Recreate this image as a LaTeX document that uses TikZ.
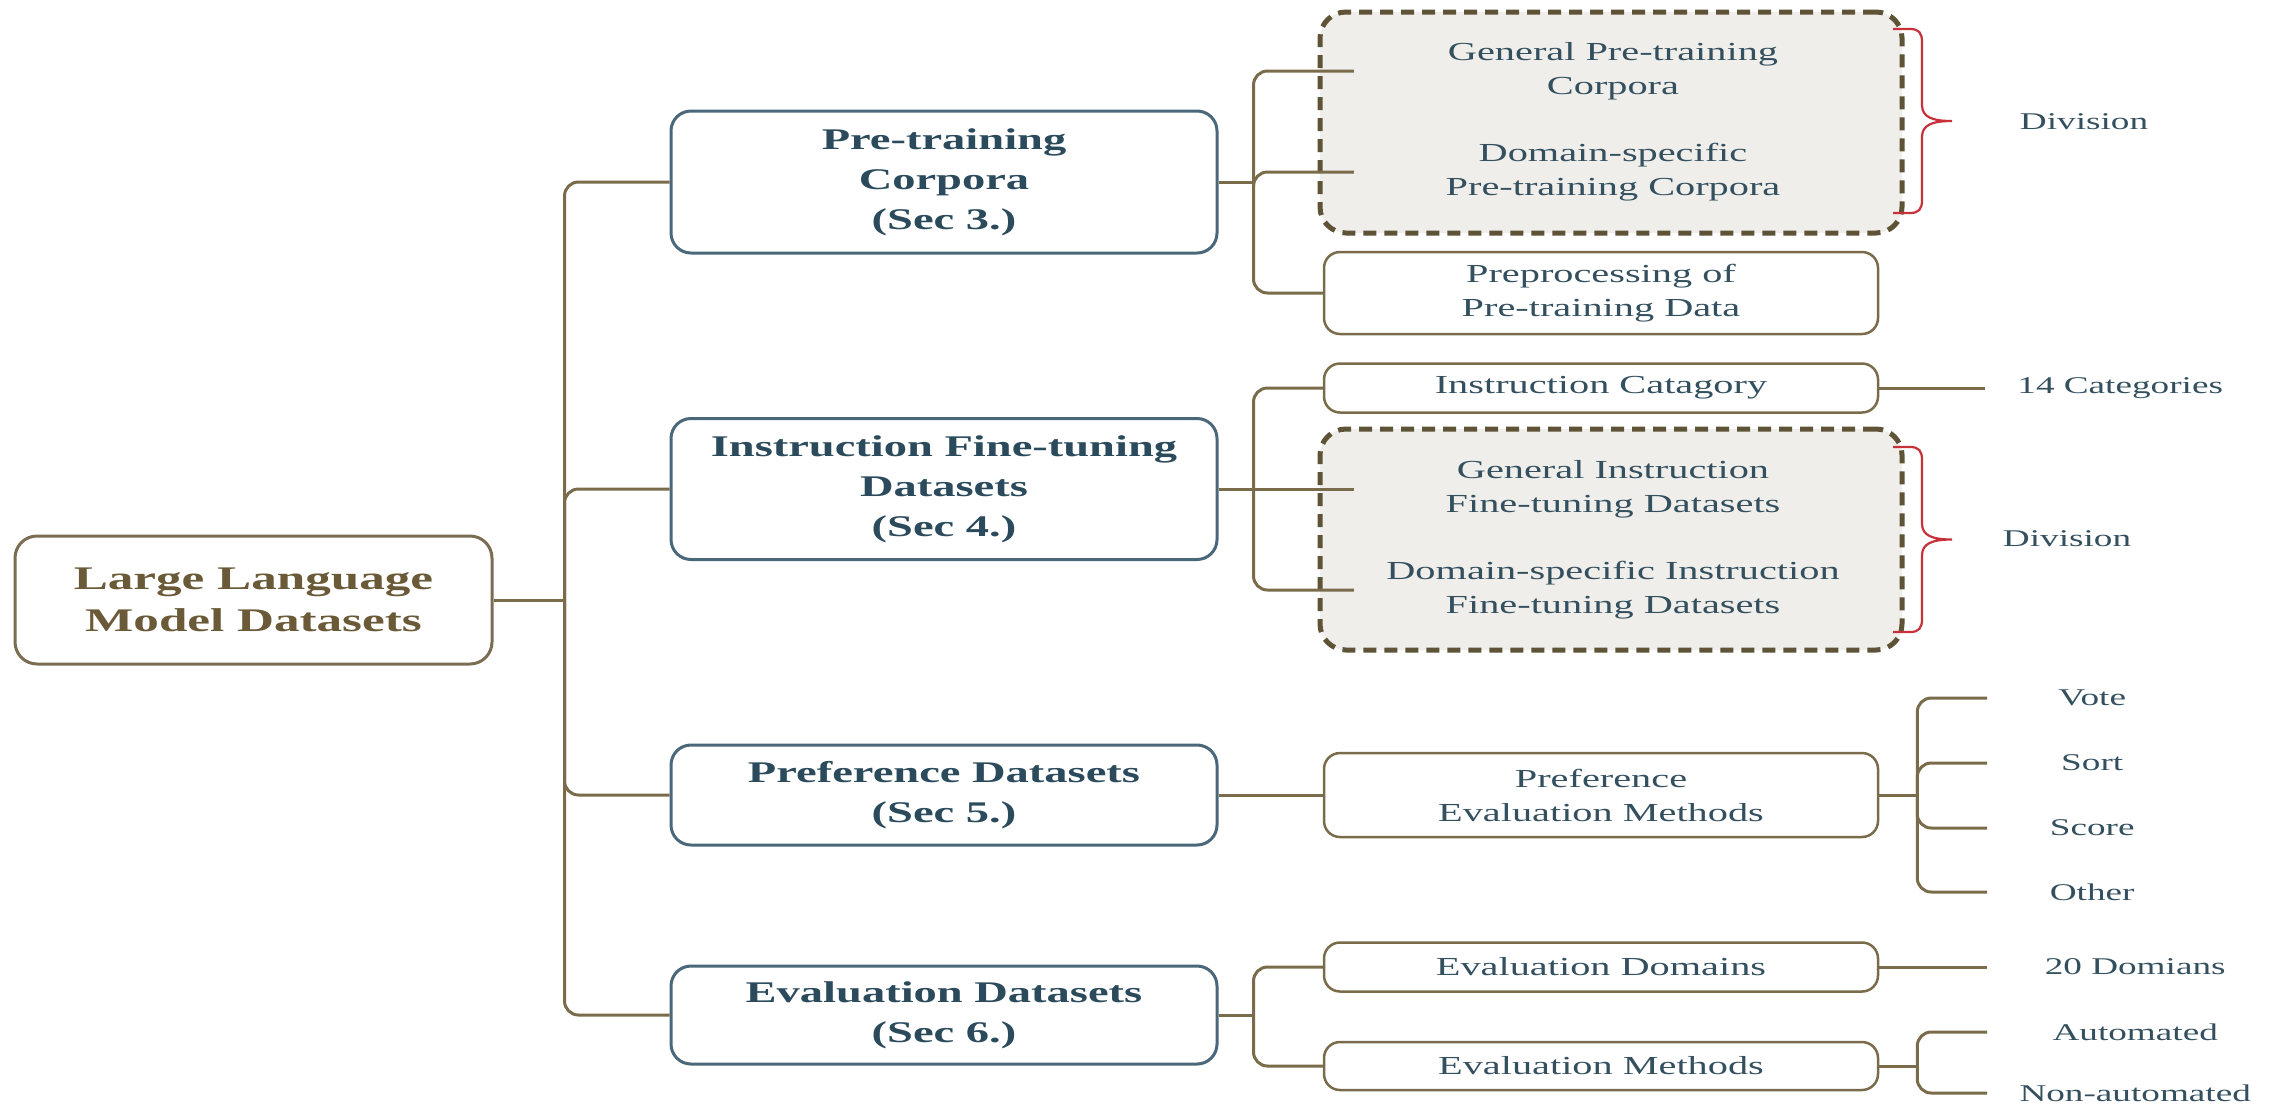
\documentclass[tikz,border=0pt]{standalone}
\usepackage{fontspec}
\setmainfont{Liberation Serif}[FakeStretch=1.55]
\usetikzlibrary{calc}
\definecolor{brn}{HTML}{7A6B4A}
\definecolor{rootbrd}{HTML}{7A6D52}
\definecolor{roottxt}{HTML}{6A5A38}
\definecolor{bluebrd}{HTML}{4A687A}
\definecolor{bluetxt}{HTML}{2B4B5C}
\definecolor{subtxt}{HTML}{34505F}
\definecolor{dashbrd}{HTML}{5E5237}
\definecolor{dashfill}{HTML}{EFEEEB}
\definecolor{bracered}{HTML}{C8303A}
% hand-drawn curly brace: x of base, top y, bottom y
\newcommand{\divbrace}[3]{%
  \pgfmathsetmacro\bxa{#1}\pgfmathsetmacro\bxb{#1+17}%
  \pgfmathsetmacro\bxv{#1+29}\pgfmathsetmacro\bxt{#1+59}%
  \pgfmathsetmacro\bxc{#1+26}\pgfmathsetmacro\bxd{#1+39}%
  \pgfmathsetmacro\bym{(#2+#3)/2}%
  \draw[bracepen] (\bxa,#2) -- (\bxb,#2)
    .. controls (\bxc,#2) and (\bxv,#2+4) .. (\bxv,#2+13)
    -- (\bxv,\bym-16)
    .. controls (\bxv,\bym-4) and (\bxd,\bym) .. (\bxt,\bym)
    .. controls (\bxd,\bym) and (\bxv,\bym+4) .. (\bxv,\bym+16)
    -- (\bxv,#3-13)
    .. controls (\bxv,#3-4) and (\bxc,#3) .. (\bxb,#3) -- (\bxa,#3);}
\begin{document}
\begin{tikzpicture}[x=1pt,y=-1pt,
 rootbox/.style={draw=rootbrd, line width=3pt, rounded corners=22pt, minimum width=477pt, minimum height=128pt, inner sep=0pt, align=center, text=roottxt, font=\fontsize{33}{42}\selectfont\bfseries},
 lvone/.style={draw=bluebrd, line width=3pt, rounded corners=20pt, minimum width=546pt, inner sep=0pt, align=center, text=bluetxt, font=\fontsize{30}{40}\selectfont\bfseries},
 lvtwo/.style={draw=brn, line width=2.5pt, rounded corners=16pt, minimum width=554pt, inner sep=0pt, align=center, text=subtxt, font=\fontsize{26}{34}\selectfont},
 groupbox/.style={draw=dashbrd, fill=dashfill, line width=5pt, dash pattern=on 13pt off 8pt, rounded corners=26pt, minimum width=582pt, inner sep=0pt},
 intext/.style={minimum width=518pt, inner sep=0pt, align=center, text=subtxt, font=\fontsize{26}{34}\selectfont},
 leaf/.style={anchor=west, inner sep=0pt, align=center, text=subtxt, font=\fontsize{24}{30}\selectfont},
 note/.style={inner sep=0pt, text=subtxt, font=\fontsize{24}{30}\selectfont},
 conn/.style={draw=brn, line width=3pt, rounded corners=14pt},
 bracepen/.style={draw=bracered, line width=2.2pt}
]
\useasboundingbox (0,0) rectangle (2282,1104);
% group containers
\node[groupbox, minimum height=221pt] (g1) at (1611,122.5) {};
\node[groupbox, minimum height=221pt] (g2) at (1611,539.5) {};
% root and level 1
\node[rootbox] (root) at (253.5,600) {Large Language\\Model Datasets};
\node[lvone, minimum height=142pt] (pre) at (944,182) {Pre-training\\Corpora\\(Sec 3.)};
\node[lvone, minimum height=141pt] (ins) at (944,489) {Instruction Fine-tuning\\Datasets\\(Sec 4.)};
\node[lvone, minimum height=100pt] (pref) at (944,795) {Preference Datasets\\(Sec 5.)};
\node[lvone, minimum height=98pt] (eval) at (944,1015) {Evaluation Datasets\\(Sec 6.)};
% level 2
\node[intext] (gpc) at (1613,71) {General Pre-training\\Corpora};
\node[intext] (dpc) at (1613,172) {Domain-specific\\Pre-training Corpora};
\node[lvtwo, minimum height=82pt] (prep) at (1601,293) {Preprocessing of\\Pre-training Data};
\node[lvtwo, minimum height=49pt] (icat) at (1601,388) {Instruction Catagory};
\node[intext] (gif) at (1613,489) {General Instruction\\Fine-tuning Datasets};
\node[intext] (dif) at (1613,590) {Domain-specific Instruction\\Fine-tuning Datasets};
\node[lvtwo, minimum height=84pt] (pem) at (1601,795) {Preference\\Evaluation Methods};
\node[lvtwo, minimum height=49pt] (edom) at (1601,967) {Evaluation Domains};
\node[lvtwo, minimum height=48pt] (emeth) at (1601,1066) {Evaluation Methods};
% leaves
\node[leaf, minimum width=270pt] (cat) at (1985,388) {14 Categories};
\node[leaf, minimum width=210pt] (vote) at (1987,698) {Vote};
\node[leaf, minimum width=210pt] (sort) at (1987,763) {Sort};
\node[leaf, minimum width=210pt] (score) at (1987,828) {Score};
\node[leaf, minimum width=210pt] (other) at (1987,892) {Other};
\node[leaf, minimum width=296pt] (dom) at (1987,967) {20 Domians};
\node[leaf, minimum width=296pt] (auto) at (1987,1032) {Automated};
\node[leaf, minimum width=296pt] (nonauto) at (1987,1093) {Non-automated};
\node[note] (div1) at (2084,122) {Division};
\node[note] (div2) at (2067,539) {Division};
% connectors
\draw[conn] (root.east) -- ++(71,0) coordinate (t0);
\draw[conn] (t0) |- (pre.west);
\draw[conn] (t0) |- (ins.west);
\draw[conn] (t0) |- (pref.west);
\draw[conn] (t0) |- (eval.west);
\draw[conn] (pre.east) -- ++(35,0) coordinate (s1);
\draw[conn] (s1) |- (gpc.west);
\draw[conn] (s1) |- (dpc.west);
\draw[conn] (s1) |- (prep.west);
\draw[conn] (ins.east) -- ++(35,0) coordinate (s2);
\draw[conn] (s2) |- (icat.west);
\draw[conn] (s2) -- (gif.west);
\draw[conn] (s2) |- (dif.west);
\draw[conn] (icat.east) -- (cat.west);
\draw[conn] (pref.east) -- (pem.west);
\draw[conn] (pem.east) -- ++(38,0) coordinate (s3);
\draw[conn] (s3) |- (vote.west);
\draw[conn] (s3) |- (sort.west);
\draw[conn] (s3) |- (score.west);
\draw[conn] (s3) |- (other.west);
\draw[conn] (eval.east) -- ++(35,0) coordinate (s4);
\draw[conn] (s4) |- (edom.west);
\draw[conn] (s4) |- (emeth.west);
\draw[conn] (edom.east) -- (dom.west);
\draw[conn] (emeth.east) -- ++(38,0) coordinate (s5);
\draw[conn] (s5) |- (auto.west);
\draw[conn] (s5) |- (nonauto.west);
% braces
\divbrace{1893}{29}{213}
\divbrace{1893}{447}{632}
\end{tikzpicture}
\end{document}
